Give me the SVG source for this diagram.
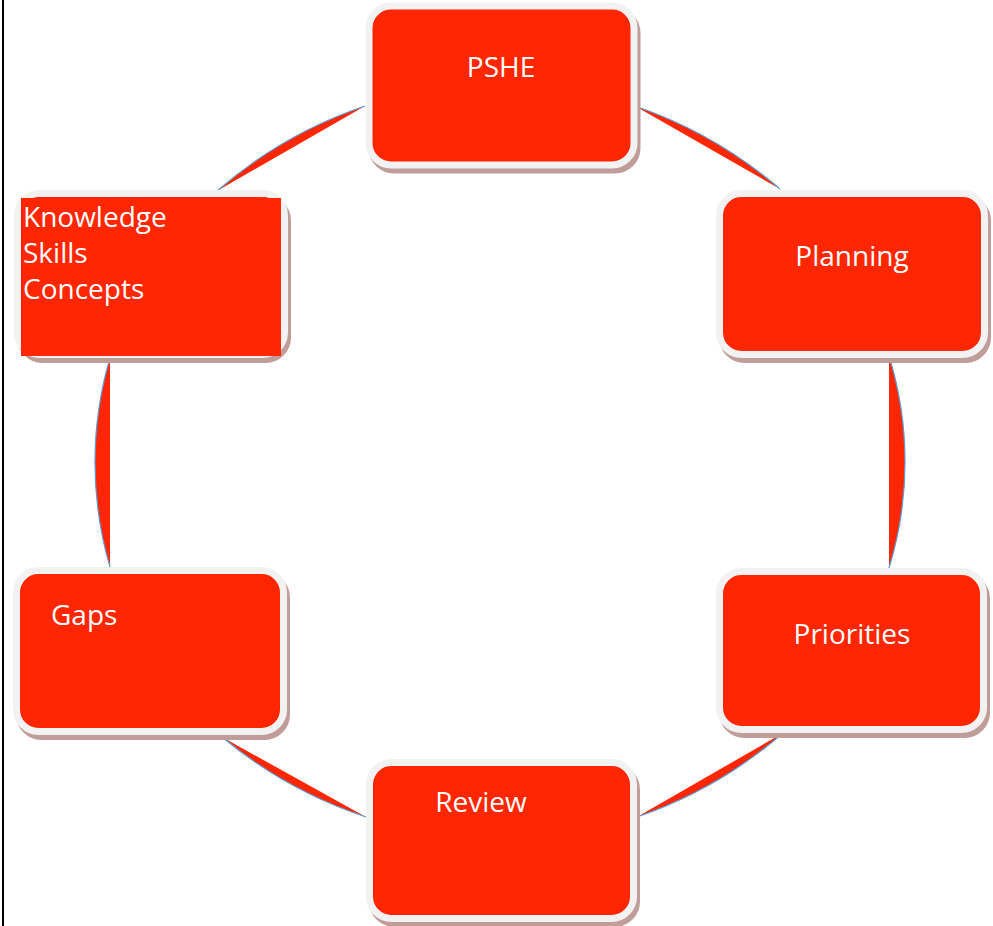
<svg xmlns="http://www.w3.org/2000/svg" width="993" height="926" viewBox="0 0 993 926">
<style>
.shadow{fill:#c09d99;stroke:#c09d99;stroke-width:7}
.box{fill:#ff2600;stroke:#f2f2f2;stroke-width:7}
.sq{fill:#ff2600}
.lens{fill:#ff2600;stroke:none}
.arc{fill:none;stroke:#5b9bd5;stroke-width:1.2}
.t{font-family:"Open Sans","Noto Sans",sans-serif;font-size:28px;fill:#ffffff}
.c{text-anchor:middle}
</style>
<rect x="0" y="0" width="993" height="926" fill="#ffffff"/>
<line x1="3" y1="0" x2="3" y2="926" stroke="#000000" stroke-width="2"/>
<g id="connectors">
<path class="lens" d="M635,106 A440,440 0 0 1 780,189 Z"/>
<path class="arc" d="M635,106 A440,440 0 0 1 780,189"/>
<path class="lens" d="M889,356 A359,359 0 0 1 889,568 Z"/>
<path class="arc" d="M889,356 A359,359 0 0 1 889,568"/>
<path class="lens" d="M783,733 A440,440 0 0 1 637,817 Z"/>
<path class="arc" d="M783,733 A440,440 0 0 1 637,817"/>
<path class="lens" d="M366,817 A440,440 0 0 1 222,737 Z"/>
<path class="arc" d="M366,817 A440,440 0 0 1 222,737"/>
<path class="lens" d="M110,567 A371,371 0 0 1 110,358 Z"/>
<path class="arc" d="M110,567 A371,371 0 0 1 110,358"/>
<path class="lens" d="M217,191 A440,440 0 0 1 365,106 Z"/>
<path class="arc" d="M217,191 A440,440 0 0 1 365,106"/>
</g>
<g id="pshe">
<rect class="shadow" x="372" y="11" width="265" height="159" rx="22"/>
<rect class="box" x="369" y="6" width="265" height="159" rx="22"/>
<text class="t c" x="501" y="77">PSHE</text>
</g>
<g id="planning">
<rect class="shadow" x="722.5" y="198.5" width="265" height="161" rx="22"/>
<rect class="box" x="719.5" y="193.5" width="265" height="161" rx="22"/>
<text class="t c" x="852" y="266">Planning</text>
</g>
<g id="priorities">
<rect class="shadow" x="722.5" y="576.5" width="264" height="158" rx="22"/>
<rect class="box" x="719.5" y="571.5" width="264" height="158" rx="22"/>
<text class="t c" x="852" y="644">Priorities</text>
</g>
<g id="review">
<rect class="shadow" x="372.5" y="767.5" width="264" height="156" rx="22"/>
<rect class="box" x="369.5" y="762.5" width="264" height="156" rx="22"/>
<text class="t c" x="481" y="812">Review</text>
</g>
<g id="gaps">
<rect class="shadow" x="19.5" y="575.5" width="267" height="161" rx="22"/>
<rect class="box" x="16.5" y="570.5" width="267" height="161" rx="22"/>
<text class="t" x="51" y="625">Gaps</text>
</g>
<g id="knowledge">
<rect class="shadow" x="20.5" y="198.5" width="267" height="161" rx="22"/>
<rect class="box" x="17.5" y="193.5" width="267" height="161" rx="22"/>
<rect class="sq" x="21" y="198" width="260" height="158"/>
<text class="t" x="23" y="227">Knowledge</text>
<text class="t" x="23" y="263">Skills</text>
<text class="t" x="23" y="299">Concepts</text>
</g>
</svg>
